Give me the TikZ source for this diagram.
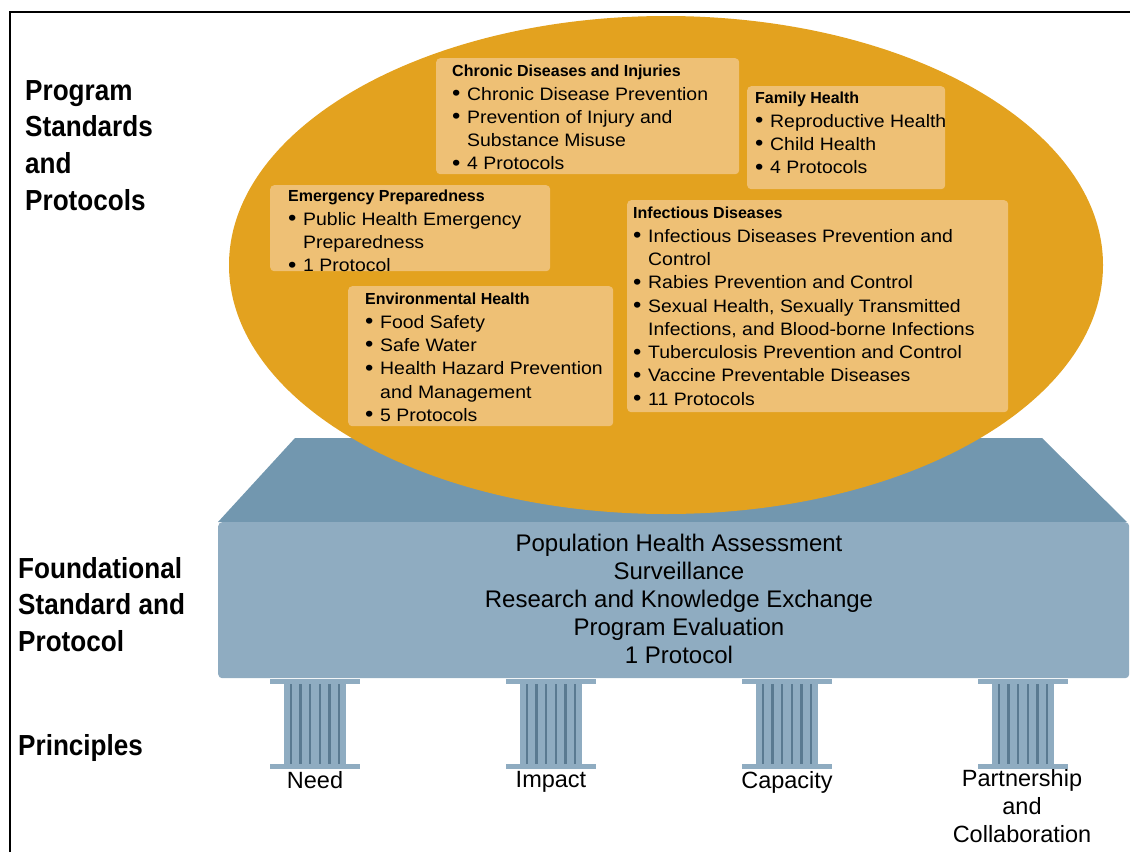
\documentclass[tikz,border=0pt]{standalone}
\usepackage{fontspec}
\setmainfont{Liberation Sans}
\newfontfamily\labelfont[FakeStretch=0.9]{Liberation Sans}
\newfontfamily\bodyfont[FakeStretch=1.08]{Liberation Sans}
\usetikzlibrary{shapes.geometric}
\definecolor{orangeE}{HTML}{E3A21F}
\definecolor{boxfill}{HTML}{EEC075}
\definecolor{slabtop}{HTML}{7297AF}
\definecolor{slabfront}{HTML}{8FACC1}
\definecolor{flute}{HTML}{5A7A91}
\newcommand{\hd}[1]{{\rmfamily\bfseries\fontsize{16}{23.3}\selectfont #1}}
\newcommand{\bl}{\makebox[15pt][l]{\raisebox{-0.5pt}{\fontsize{22}{22}\selectfont •}}}
\newcommand{\ct}{\hspace*{15pt}}
\tikzset{
  obox/.style={fill=boxfill, rounded corners=4pt, inner sep=0pt, anchor=north west},
  btext/.style={anchor=north west, inner sep=0pt, align=left, font=\bodyfont\fontsize{18}{23.3}\selectfont},
  lbl/.style={anchor=north west, inner sep=0pt, align=left, font=\labelfont\bfseries\fontsize{29}{36.7}\selectfont},
  plabel/.style={anchor=north, inner sep=0pt, align=center, font=\fontsize{23.5}{28}\selectfont},
  pillarfill/.style={fill=slabfront},
  fluteline/.style={draw=flute, line width=2.4pt}
}
\begin{document}
\begin{tikzpicture}[x=1pt,y=-1pt]
\useasboundingbox (0,0) rectangle (1130,852);
% frame
\draw[line width=2pt] (10,852) -- (10,12) -- (1130,12);
% slab top
\fill[slabtop] (295,438) -- (1042,438) -- (1127,522) -- (218,522) -- cycle;
% ellipse
\node[ellipse, fill=orangeE, inner sep=0pt, minimum width=874pt, minimum height=498pt] (oval) at (666,265) {};
% boxes
\node[obox, minimum width=303pt, minimum height=116pt] (chronic) at (436,58) {};
\node[obox, minimum width=198pt, minimum height=103pt] (family) at (747,86) {};
\node[obox, minimum width=280pt, minimum height=86pt] (emerg) at (270,185) {};
\node[obox, minimum width=265pt, minimum height=140pt] (envir) at (348,286) {};
\node[obox, minimum width=381pt, minimum height=212pt] (infect) at (627,200) {};
% box texts
\node[btext] (chronicT) at (452,65) {\hd{Chronic Diseases and Injuries}\\
\bl Chronic Disease Prevention\\
\bl Prevention of Injury and\\
\ct Substance Misuse\\
\bl 4 Protocols};
\node[btext] (familyT) at (755,92) {\hd{Family Health}\\
\bl Reproductive Health\\
\bl Child Health\\
\bl 4 Protocols};
\node[btext] (emergT) at (288,190) {\hd{Emergency Preparedness}\\
\bl Public Health Emergency\\
\ct Preparedness\\
\bl 1 Protocol};
\node[btext] (envirT) at (365,293) {\hd{Environmental Health}\\
\bl Food Safety\\
\bl Safe Water\\
\bl Health Hazard Prevention\\
\ct and Management\\
\bl 5 Protocols};
\node[btext] (infectT) at (633,207) {\hd{Infectious Diseases}\\
\bl Infectious Diseases Prevention and\\
\ct Control\\
\bl Rabies Prevention and Control\\
\bl Sexual Health, Sexually Transmitted\\
\ct Infections, and Blood-borne Infections\\
\bl Tuberculosis Prevention and Control\\
\bl Vaccine Preventable Diseases\\
\bl 11 Protocols};
% slab front
\node[fill=slabfront, inner sep=0pt, anchor=north west, minimum width=911pt, minimum height=156pt, rounded corners=4pt] (slab) at (218,522) {};
\node[anchor=north, inner sep=0pt, align=center, font=\fontsize{24}{28}\selectfont] (slabT) at (679,534) {Population Health Assessment\\
Surveillance\\
Research and Knowledge Exchange\\
Program Evaluation\\
1 Protocol};
% pillars
\foreach \c in {315,551,787,1023}{
  \fill[pillarfill] (\c-45,679) rectangle (\c+45,684);
  \fill[pillarfill] (\c-31,683) rectangle (\c+31,765);
  \foreach \k in {0,...,5}{
    \draw[fluteline] (\c-24+9.6*\k,684) -- (\c-24+9.6*\k,764);
  }
  \fill[pillarfill] (\c-45,764) rectangle (\c+45,769);
}
\node[plabel] (need) at (315,771) {Need};
\node[plabel] (impact) at (551,771) {Impact};
\node[plabel] (capacity) at (787,771) {Capacity};
\node[plabel] (partner) at (1022,769) {Partnership\\and\\Collaboration};
% left labels
\node[lbl] (psp) at (25,80) {Program\\Standards\\and\\Protocols};
\node[lbl] (fsp) at (18,557) {Foundational\\Standard and\\Protocol};
\node[lbl] (pri) at (18,734) {Principles};
\end{tikzpicture}
\end{document}
